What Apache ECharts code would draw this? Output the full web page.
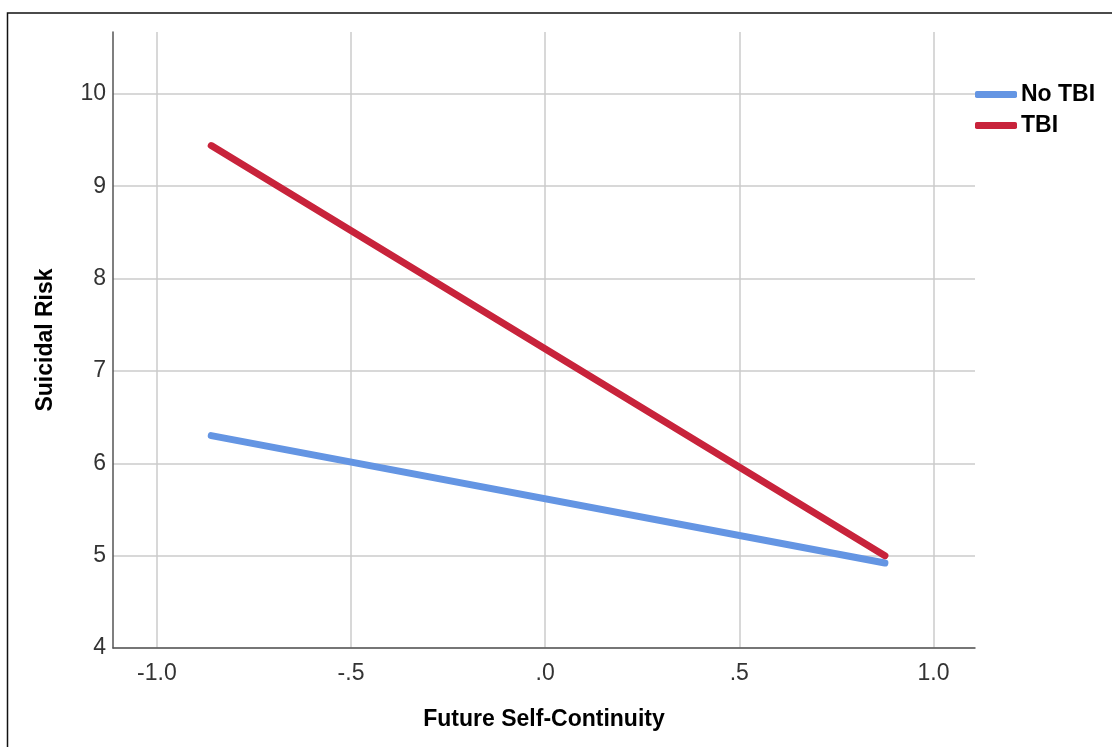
<!DOCTYPE html>
<html>
<head>
<meta charset="utf-8">
<script src="https://cdn.jsdelivr.net/npm/echarts@6/dist/echarts.min.js"></script>
<style>
html,body{margin:0;padding:0;background:#fff;}
#chart{width:1112px;height:747px;}
</style>
</head>
<body>
<div id="chart"></div>
<script>
// Data
const seriesNames = ['No TBI', 'TBI'];
const xPoints = [-0.86, 0.875];
const noTBI = [6.30, 4.92];
const tbi = [9.44, 5.00];
const xTicks = [-1.0, -0.5, 0.0, 0.5, 1.0];
const xTickLabels = ['-1.0', '-.5', '.0', '.5', '1.0'];
const yTicks = [4, 5, 6, 7, 8, 9, 10];
const xTitle = 'Future Self-Continuity';
const yTitle = 'Suicidal Risk';

const colors = ['#6495e3', '#c8233b'];
const font = '"Liberation Sans", Arial, sans-serif';

const chart = echarts.init(document.getElementById('chart'), null, {renderer: 'canvas'});
const labelMap = {};
xTicks.forEach((v, i) => { labelMap[v.toFixed(2)] = xTickLabels[i]; });

chart.setOption({
  animation: false,
  backgroundColor: '#fff',
  graphic: [{
    type: 'rect',
    shape: {x: 7.5, y: 13, width: 2000, height: 2000},
    style: {fill: 'none', stroke: '#111', lineWidth: 1.5},
    silent: true
  }],
  grid: {left: 113, right: 137, top: 32, bottom: 99, containLabel: false},
  legend: {
    orient: 'vertical',
    left: 975,
    top: 79,
    padding: 0,
    itemWidth: 42,
    itemHeight: 7,
    itemGap: 0,
    icon: 'roundRect',
    textStyle: {fontFamily: font, fontWeight: 'bold', fontSize: 23, color: '#000', lineHeight: 31, padding: [0, 0, 0, -1]},
    data: seriesNames
  },
  xAxis: {
    type: 'value',
    min: -1.113,
    max: 1.107,
    name: xTitle,
    nameLocation: 'middle',
    nameGap: 60,
    nameTextStyle: {fontFamily: font, fontWeight: 'bold', fontSize: 23, color: '#000'},
    axisLine: {show: true, onZero: false, lineStyle: {color: '#555', width: 1.5}},
    axisTick: {show: false, customValues: xTicks},
    axisLabel: {
      customValues: xTicks,
      fontFamily: font, fontSize: 23, color: '#333', margin: 14,
      formatter: v => labelMap[Number(v).toFixed(2)] || ''
    },
    splitLine: {show: true, lineStyle: {color: '#cbcbcb', width: 1.5}}
  },
  yAxis: {
    type: 'value',
    min: 4,
    max: 10.67,
    name: yTitle,
    nameLocation: 'middle',
    nameGap: 56,
    nameTextStyle: {fontFamily: font, fontWeight: 'bold', fontSize: 23, color: '#000'},
    axisLine: {show: true, onZero: false, lineStyle: {color: '#555', width: 1.5}},
    axisTick: {show: false, customValues: yTicks},
    axisLabel: {
      customValues: yTicks,
      fontFamily: font, fontSize: 23, color: '#333', margin: 7,
      formatter: v => String(Math.round(v))
    },
    splitLine: {show: true, lineStyle: {color: '#cbcbcb', width: 1.5}}
  },
  series: [
    {
      name: seriesNames[0], type: 'line', symbol: 'none',
      data: xPoints.map((x, i) => [x, noTBI[i]]),
      lineStyle: {color: colors[0], width: 7, cap: 'round'},
      itemStyle: {color: colors[0]}
    },
    {
      name: seriesNames[1], type: 'line', symbol: 'none',
      data: xPoints.map((x, i) => [x, tbi[i]]),
      lineStyle: {color: colors[1], width: 7, cap: 'round'},
      itemStyle: {color: colors[1]}
    }
  ]
});
</script>
</body>
</html>
